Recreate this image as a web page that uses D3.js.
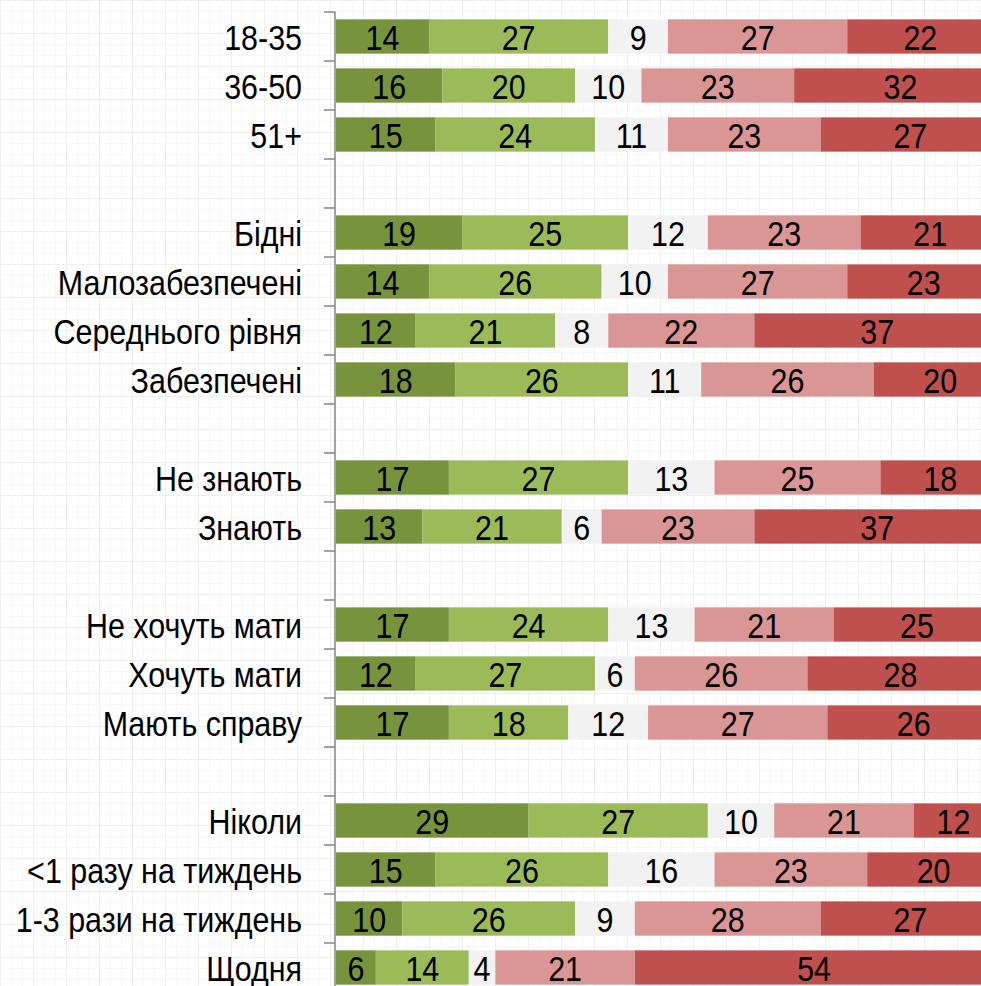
<!DOCTYPE html>
<html>
<head>
<meta charset="utf-8">
<script src="https://cdn.jsdelivr.net/npm/d3@7"></script>
<style>
  html, body { margin: 0; padding: 0; background: #fff; }
  svg { display: block; }
  text { font-family: "Liberation Sans Narrow", "Arial Narrow", "Liberation Sans", sans-serif; }
</style>
</head>
<body>
<svg id="chart"></svg>
<script>
// rows, "" = blank spacer row between groups
const categories = [
  "18-35", "36-50", "51+", "",
  "Бідні", "Малозабезпечені", "Середнього рівня", "Забезпечені", "",
  "Не знають", "Знають", "",
  "Не хочуть мати", "Хочуть мати", "Мають справу", "",
  "Ніколи", "<1 разу на тиждень", "1-3 рази на тиждень", "Щодня"
];
const s1 = [14, 16, 15, null, 19, 14, 12, 18, null, 17, 13, null, 17, 12, 17, null, 29, 15, 10, 6];
const s2 = [27, 20, 24, null, 25, 26, 21, 26, null, 27, 21, null, 24, 27, 18, null, 27, 26, 26, 14];
const s3 = [9, 10, 11, null, 12, 10, 8, 11, null, 13, 6, null, 13, 6, 12, null, 10, 16, 9, 4];
const s4 = [27, 23, 23, null, 23, 27, 22, 26, null, 25, 23, null, 21, 26, 27, null, 21, 23, 28, 21];
const s5 = [22, 32, 27, null, 21, 23, 37, 20, null, 18, 37, null, 25, 28, 26, null, 12, 20, 27, 54];
const series = [s1, s2, s3, s4, s5];
const colors = ["#77933c", "#9bbb59", "#f2f2f2", "#d99694", "#c0504d"];

const width = 981, height = 986;
const squeeze = 0.87; // no narrow font installed, so squeeze the regular one
const svg = d3.select("#chart").attr("width", width).attr("height", height);

// faint graph-paper background
const defs = svg.append("defs");
const pat = defs.append("pattern")
    .attr("id", "grid")
    .attr("patternUnits", "userSpaceOnUse")
    .attr("width", 33).attr("height", 33);
pat.append("rect").attr("width", 33).attr("height", 33).attr("fill", "#fff");
[0, 11, 22].forEach(p => {
  pat.append("line").attr("x1", p + 0.5).attr("x2", p + 0.5).attr("y1", 0).attr("y2", 33)
    .attr("stroke", p ? "#f7f7f7" : "#efefef").attr("stroke-width", 1);
  pat.append("line").attr("y1", p + 0.5).attr("y2", p + 0.5).attr("x1", 0).attr("x2", 33)
    .attr("stroke", p ? "#f7f7f7" : "#efefef").attr("stroke-width", 1);
});
svg.append("rect").attr("width", width).attr("height", height).attr("fill", "url(#grid)");

const rows = categories.map((c, i) => i);
const y = d3.scaleBand().domain(rows).range([12, 992]).paddingInner(0.3).paddingOuter(0.15);
const x = d3.scaleLinear().domain([0, 100]).range([336, 1000]);

const stack = d3.stack()
  .keys(d3.range(series.length))
  .value((d, k) => series[k][d] || 0);
const stacked = stack(rows.filter(i => categories[i] !== ""));

const layer = svg.append("g").selectAll("g")
  .data(stacked)
  .join("g")
    .attr("fill", (d, k) => colors[k]);

layer.selectAll("rect")
  .data(d => d)
  .join("rect")
    .attr("x", d => x(d[0]))
    .attr("y", d => y(d.data))
    .attr("width", d => x(d[1]) - x(d[0]))
    .attr("height", y.bandwidth());

layer.selectAll("text")
  .data((d, k) => d.map(p => ({ p, v: series[k][p.data] })))
  .join("text")
    .attr("transform", d => `translate(${(x(d.p[0]) + x(d.p[1])) / 2},${y(d.p.data) + y.bandwidth() / 2 + 1}) scale(${squeeze},1)`)
    .attr("dy", "0.36em")
    .attr("text-anchor", "middle")
    .attr("fill", "#000")
    .attr("font-size", 35)
    .text(d => d.v);

// axis: line, ticks at row boundaries, labels
const axis = svg.append("g");
const half = y.step() * y.paddingInner() / 2;
const bounds = rows.map(i => y(i) - half).concat([y(rows[rows.length - 1]) + y.bandwidth() + half]);
axis.append("line")
  .attr("x1", 335).attr("x2", 335)
  .attr("y1", bounds[0]).attr("y2", height)
  .attr("stroke", "#868686").attr("stroke-width", 1.5);
axis.selectAll("line.tick")
  .data(bounds)
  .join("line")
    .attr("class", "tick")
    .attr("x1", 324).attr("x2", 335)
    .attr("y1", d => d).attr("y2", d => d)
    .attr("stroke", "#868686").attr("stroke-width", 1.5);
axis.selectAll("text")
  .data(rows.filter(i => categories[i] !== ""))
  .join("text")
    .attr("transform", d => `translate(302,${y(d) + y.bandwidth() / 2 + 1}) scale(${squeeze},1)`)
    .attr("dy", "0.36em")
    .attr("text-anchor", "end")
    .attr("font-size", 35)
    .attr("fill", "#000")
    .text(d => categories[d]);
</script>
</body>
</html>
